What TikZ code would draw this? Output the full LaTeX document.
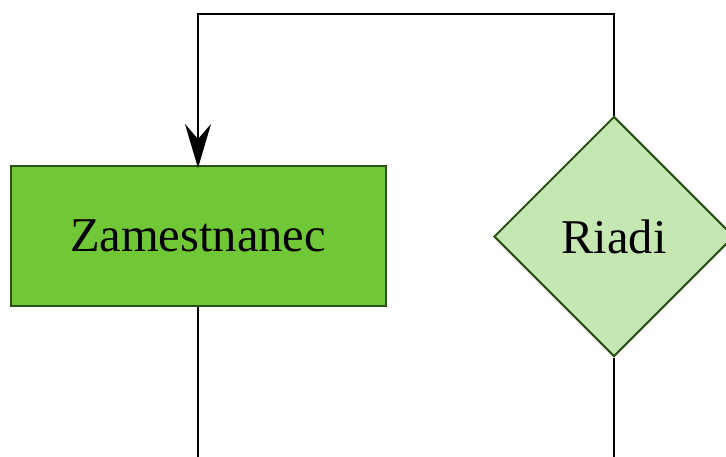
\documentclass[tikz,border=0pt]{standalone}
\usepackage{fontspec}
\setmainfont{Liberation Serif}
\usetikzlibrary{shapes.geometric,arrows.meta}
\definecolor{boxfill}{HTML}{71C837}
\definecolor{decfill}{HTML}{C5E8B3}
\definecolor{edgegreen}{HTML}{2D5016}
\tikzset{
  process/.style={draw=edgegreen, fill=boxfill, line width=2pt,
    minimum width=375pt, minimum height=140pt, inner sep=0pt,
    font=\fontsize{48.5}{56}\selectfont},
  decision/.style={draw=edgegreen, fill=decfill, line width=2pt, diamond, aspect=1,
    minimum width=240pt, minimum height=240pt, inner sep=0pt,
    font=\fontsize{48.5}{56}\selectfont},
  flow/.style={draw=black, line width=2pt},
  flowarrow/.style={flow, -{Stealth[length=44pt, width=26pt, inset=15pt]}, shorten >=-3pt}
}
\begin{document}
\begin{tikzpicture}[x=1pt, y=-1pt]
  \useasboundingbox (0,0) rectangle (726,456);
  \node[process] (emp) at (198,236) {Zamestnanec};
  \node[decision] (dec) at (614,236.5) {Riadi};
  \coordinate (topR) at (614,14);
  \coordinate (topL) at (198,14);
  \coordinate (empOut) at (198,460);
  \coordinate (decOut) at (614,460);
  \draw[flowarrow] (dec.north) -- (topR) -- (topL) -- (emp.north);
  \draw[flow] (emp.south) -- (empOut);
  \draw[flow] (dec.south) -- (decOut);
\end{tikzpicture}
\end{document}
